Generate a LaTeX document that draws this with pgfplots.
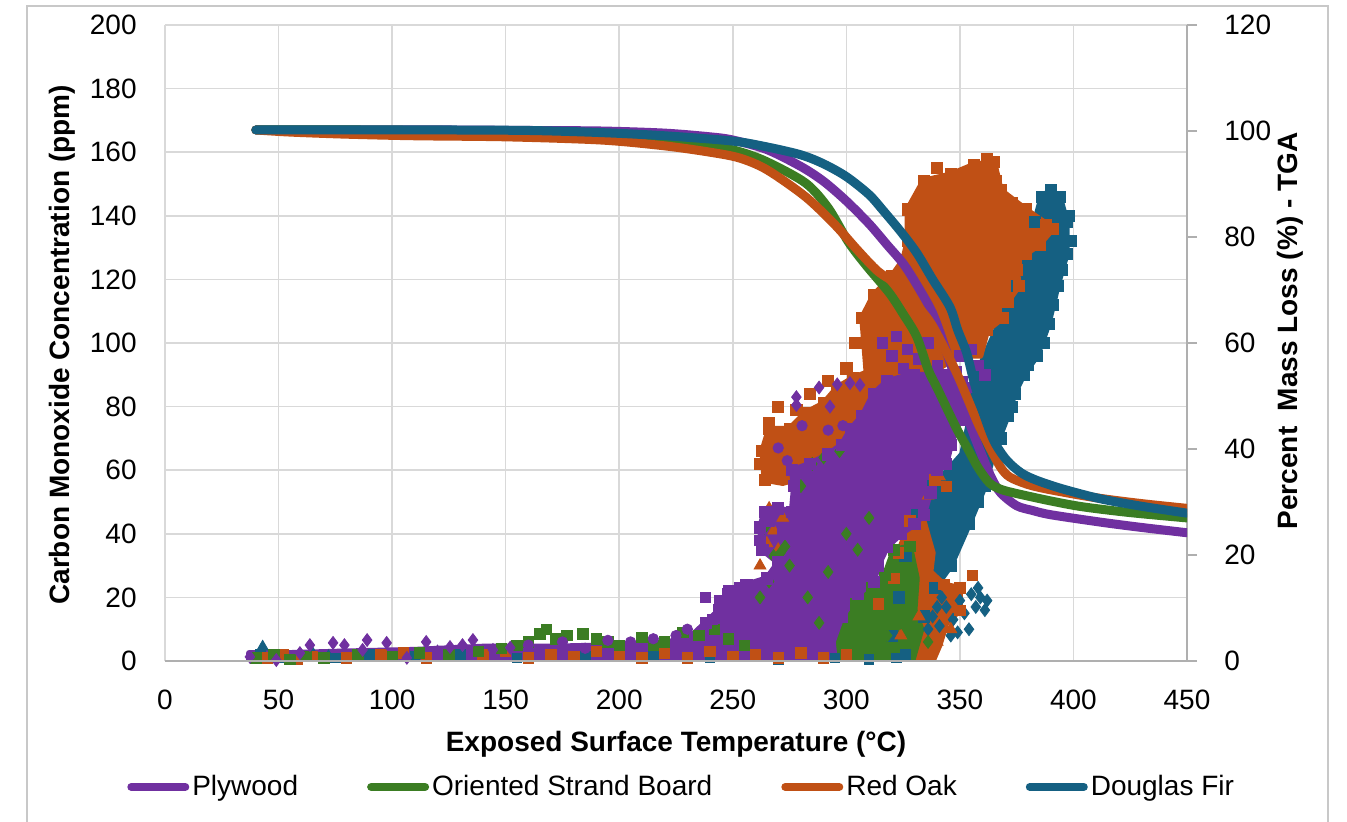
\documentclass[border=0pt]{standalone}
\usepackage{fontspec}
\setmainfont{Liberation Sans}
\usepackage{pgfplots}
\pgfplotsset{compat=1.18}
\definecolor{pur}{RGB}{112,48,160}
\definecolor{grn}{RGB}{59,125,35}
\definecolor{org}{RGB}{192,80,21}
\definecolor{tea}{RGB}{21,96,130}
\definecolor{gridc}{RGB}{217,217,217}
\definecolor{axc}{RGB}{175,175,175}
\definecolor{bordc}{RGB}{200,200,200}
\pgfplotsset{
  blob/.style={draw=#1, fill=#1, line width=3pt, line join=round, forget plot},
  pts/.style={only marks, color=#1, mark options={draw=#1, fill=#1}, forget plot},
}
\begin{document}
\begin{tikzpicture}
\useasboundingbox (-82.5pt,-80pt) rectangle (591pt,330.5pt);
\draw[bordc, line width=1pt] (-69pt,-90pt) rectangle (581.5pt,327.5pt);
\begin{axis}[
  at={(0,0)}, anchor=south west, scale only axis, width=511pt, height=318pt,
  xmin=0, xmax=450, ymin=0, ymax=200,
  xtick={0,50,...,450}, ytick={0,20,...,200},
  grid=major, grid style={gridc, line width=0.8pt},
  axis line style={draw=none}, tick style={draw=none},
  font=\fontsize{14}{17}\selectfont,
  /pgf/number format/assume math mode=true,
  xticklabel style={anchor=center, inner sep=0pt, yshift=-19.5pt},
  yticklabel style={anchor=east, inner sep=0pt, xshift=-14pt},
  xlabel={\bfseries Exposed Surface Temperature (°C)},
  xlabel style={at={(axis description cs:0.5,-0.1305)}, anchor=center},
  ylabel={\bfseries Carbon Monoxide Concentration (ppm)},
  ylabel style={at={(axis description cs:-0.1008,0.497)}, anchor=center},
]
% ---------------- Douglas Fir (teal) ----------------
\addplot[blob=tea] coordinates {
(318,0) (320,8) (323,20) (326,33) (331,46) (338,55) (346,61) (351,65) (354,75) (356,88)
(361,96) (366,104) (371,111) (375,118) (380,126) (383,138) (386,146) (390,148) (394,146)
(397,138) (397,128) (393,118) (389,106) (384,96) (378,90) (374,84) (371,77) (365,66)
(361,55) (354,43) (346,30) (339,23) (334,14) (331,5) (331,0)} -- cycle;
\addplot[pts=tea, mark=square*, mark size=2.8pt] coordinates {
(320,8) (323,20) (326,33) (331,46) (338,55) (346,61) (371,111) (375,118) (380,126)
(383,138) (386,146) (390,148) (394,146) (397,138) (397,128) (393,118) (389,106) (384,96)
(378,90) (374,84) (371,77) (365,66) (361,55) (354,43) (346,30) (339,23) (334,14)
(398,140) (399,132) (395,123) (391,112) (387,100) (380,93) (373,80) (368,70) (358,50)};
\addplot[pts=tea, mark=diamond*, mark size=3.2pt] coordinates {
(338,14) (341,11) (344,17) (347,13) (350,19) (352,15) (355,21) (357,17) (359,20) (361,16)
(354,10) (346,8) (342,20) (349,9) (358,23) (362,19) (336,10) (340,17)};
\addplot[pts=tea, mark=square*, mark size=2.4pt] coordinates {
(42,2) (50,1) (60,1.5) (75,1) (90,2) (110,1.5) (130,2) (155,1) (185,1.5) (215,1.5)
(240,1) (270,0.5) (295,1) (310,0.5) (322,1) (326,2)};
\addplot[pts=tea, mark=triangle*, mark size=3.2pt] coordinates {(43,4.5) (65,2.5) (72,1.5)};
% ---------------- Red Oak (orange) ----------------
\addplot[blob=org] coordinates {
(307,108) (312,115) (320,121) (325,126) (327,132) (327,142) (334,151) (346,153) (356,156)
(365,157) (368,148) (379,142) (391,136) (385,131) (379,128) (375,123) (376,118) (371,113)
(369,108) (362,104) (359,96) (352,96) (345,94) (336,90) (328,90) (320,88) (315,86) (309,90)} -- cycle;
\addplot[pts=org, mark=square*, mark size=2.8pt] coordinates {
(307,108) (312,115) (320,121) (325,126) (327,132) (327,142) (334,151) (346,153) (356,156)
(365,157) (368,148) (379,142) (391,136) (385,131) (379,128) (375,123) (376,118) (371,113)
(369,108) (362,104) (331,141) (337,147) (362,158) (366,151) (373,144) (333,136) (388,137)
(340,155) (350,150) (360,152) (318,118) (311,104) (304,100)};
\addplot[blob=org] coordinates {
(264,57) (263,66) (266,73) (275,73) (282,78) (290,81) (296,86) (303,89) (310,91) (316,92)
(322,88) (323,80) (318,75) (306,72) (300,67) (292,61) (282,58) (272,56)} -- cycle;
\addplot[pts=org, mark=square*, mark size=2.8pt] coordinates {
(264,57) (263,66) (266,73) (275,73) (282,78) (290,81) (296,86) (303,89) (266,75) (278,79)
(262,62) (270,80) (284,84) (292,88) (300,92)};
\addplot[blob=org] coordinates {
(310,0) (308,8) (314,18) (321,26) (323,34) (328,44) (334,44) (338,34) (337,28) (343,24)
(350,23) (350,16) (344,12) (341,5) (338,0)} -- cycle;
\addplot[pts=org, mark=square*, mark size=2.6pt] coordinates {
(45,1) (52,2) (58,0.5) (65,1.5) (80,1) (95,2) (105,2.5) (115,1) (125,1.5) (140,2) (150,3)
(160,1) (170,2) (180,1.5) (190,3) (200,2) (210,1) (220,2.5) (230,1) (240,3) (250,1.5)
(260,2) (270,1) (280,2.5) (290,1) (300,2) (355.6,27) (339,57) (344,55) (343,24) (350,23)
(350,16) (314,18) (321,26) (323,34) (328,44)};
\addplot[pts=org, mark=triangle*, mark size=3.4pt] coordinates {
(262,30) (265,37) (268,41) (272,45) (270,35) (266,48) (336,52) (341,58) (324,8) (332,14)
(340,6) (346,10)};
% ---------------- OSB (green) ----------------
\addplot[blob=grn] coordinates {
(289,0) (289,5) (296,12) (304,18) (311,23) (317,27) (321,35) (328,36) (331,26) (330,16)
(333,10) (329,0)} -- cycle;
\addplot[pts=grn, mark=square*, mark size=2.6pt] coordinates {
(40,1) (48,2) (55,0.5) (62,1.5) (70,1) (85,2) (100,1.5) (112,2.5) (125,2) (138,3) (148,4)
(155,5) (160,6) (165,8.5) (168,10) (172,7) (177,8) (184,8.5) (190,7) (195,6) (200,5)
(210,7.5) (215,5) (220,6) (228,9) (235,8) (242,10) (248,7) (255,5) (304,18) (311,23)
(317,27) (321,35) (328,36)};
\addplot[pts=grn, mark=diamond*, mark size=3.2pt] coordinates {
(262,20) (266,25) (268,33) (271,34) (273,36) (264,42) (285,62) (290,64) (297,66) (280,55)
(300,40) (305,35) (310,45) (275,30) (283,20) (288,12) (292,28) (318,8) (324,12) (336,6)};
% ---------------- Plywood (purple) ----------------
\addplot[blob=pur] coordinates {
(37,0) (37,2.5) (55,2.5) (80,3) (110,3.5) (140,4.5) (170,4.5) (200,5) (222,6) (232,8)
(238,12) (244,16) (248,21) (256,24) (265,26) (270,31) (263,35) (262,42) (264,47) (270,48)
(276,47) (277,55) (276,60) (284,62) (292,65) (298,68) (302,73) (307,77) (312,84) (318,88)
(328,90) (340,90) (348,91) (352,86) (350,76) (346,68) (344,62) (340,60) (337,53) (334,46)
(330,43) (324,40) (318,36) (314,30) (312,25) (305,21) (298,14) (294,6) (295,0)} -- cycle;
\addplot[pts=pur, mark=square*, mark size=2.8pt] coordinates {
(238,12) (244,16) (248,21) (256,24) (265,26) (270,31) (263,35) (262,42) (264,47) (270,48)
(276,47) (277,55) (276,60) (284,62) (292,65) (298,68) (302,73) (307,77) (312,84) (318,88)
(328,90) (340,90) (348,91) (352,86) (350,76) (346,68) (344,62) (340,60) (337,53) (334,46)
(330,43) (324,40) (318,36) (314,30) (312,25) (305,21) (298,14)};
\addplot[pts=pur, mark=diamond*, mark size=3.2pt] coordinates {
(278,83) (288,86) (296,87) (301.6,87.4) (306,86.8) (278,80.5) (292.8,80) (63.8,5) (74,5.7)
(79,5) (89,6.6) (97.6,5.7) (87,3.5) (59.4,2.5) (49,0.3) (37.4,1.3) (106.5,1) (125.5,4.4)
(135.6,6.6) (131,5) (144.4,3.5) (152,4.2) (115,6) (120,3)};
\addplot[pts=pur, mark=*, mark size=2.6pt] coordinates {
(280.5,74) (292,72.6) (298.5,74) (284,61.6) (270,67) (274,63) (160,5) (175,6) (185,4)
(195,6.5) (205,6) (215,7) (225,8) (230,10)};
\addplot[pts=pur, mark=square*, mark size=2.6pt] coordinates {
(241,13) (244,19) (248,22) (253,23) (238,20) (262,38) (266,44) (266,47) (272,40) (279,45)
(316,100) (320,96) (322,102) (327,98) (332,95) (336,100) (340,93) (345,90) (350,96)
(355,98) (358,93) (361,90) (330,90) (325,92) (351,88) (356,86)};
\end{axis}
\begin{axis}[
  at={(0,0)}, anchor=south west, scale only axis, width=511pt, height=318pt,
  xmin=0, xmax=450, ymin=0, ymax=120,
  axis y line*=right, axis x line*=bottom,
  xtick=\empty, ytick={0,20,...,120},
  axis line style={axc, line width=0.8pt, -},
  y tick style={axc, line width=0.8pt}, major tick length=5pt, tick align=outside,
  font=\fontsize{14}{17}\selectfont,
  /pgf/number format/assume math mode=true,
  yticklabel style={anchor=west, inner sep=0pt, xshift=13.5pt},
  ylabel={\bfseries Percent\ \ Mass Loss (\%) - TGA},
  ylabel style={at={(axis description cs:1.1008,0.519)}, anchor=center},
  legend columns=4,
  legend style={at={(axis description cs:0.506,-0.198)}, anchor=center, draw=none, fill=none,
    font=\fontsize{14}{17}\selectfont, nodes={inner sep=1.5pt},
    /tikz/every even column/.append style={column sep=33pt}},
  legend image code/.code={\draw[#1, line width=4pt, line cap=round] (0pt,0pt) -- (27pt,0pt);},
]
\addplot[pur, line width=4.5pt, line cap=round, line join=round, smooth] coordinates {
(40,100.2) (80,100.2) (120,100.2) (160,100.1) (192,100) (220,99.6) (240,98.9) (250,98.3)
(265,96.5) (280,93.3) (290,90.5) (300,86.8) (310,82.5) (318,78.5) (325,75) (331,71)
(338,65.6) (344,58.5) (350,50.5) (355,44) (360,38.5) (364,34.5) (368,31.7) (375,29.3)
(382,28.4) (390,27.6) (412,26.2) (430,25.2) (450,24.2)};
\addlegendentry{Plywood}
\addplot[grn, line width=4.5pt, line cap=round, line join=round, smooth] coordinates {
(40,100.2) (80,100.2) (120,100.1) (160,100) (192,99.4) (220,98.5) (240,97.3) (253,96.1)
(265,94.2) (282,90.2) (292,85.5) (301,79) (309,74.5) (319,69.4) (325,65.5) (331,61.2)
(336,55) (340,51.5) (345,47) (349,43.5) (353,40.4) (358,36.5) (363,33.6) (368,32.4)
(375,31.6) (390,30.2) (404,29.1) (425,28) (450,27)};
\addlegendentry{Oriented Strand Board}
\addplot[org, line width=4.5pt, line cap=round, line join=round, smooth] coordinates {
(40,100.2) (55,99.8) (80,99.4) (110,99.1) (150,98.9) (192,98.3) (220,97.2) (240,96)
(253,94.9) (265,92.7) (282,87.6) (295,82.3) (305,77.5) (314,73.5) (324,70.5) (336,64.5)
(342,60) (348.6,54.3) (353,49.9) (358,44.8) (363,40.4) (368,36.5) (372,34.7) (380,33.3)
(390,32.3) (410,30.8) (430,29.7) (450,28.8)};
\addlegendentry{Red Oak}
\addplot[tea, line width=4.5pt, line cap=round, line join=round, smooth] coordinates {
(40,100.2) (80,100.2) (120,100.2) (160,100.1) (192,99.7) (220,99.1) (250,98.1) (265,97)
(280,95.5) (290,93.8) (300,91.4) (310,88) (316,85.1) (324,81) (331,77) (338,72)
(345.6,66.8) (349,62.5) (353,58.1) (356,53) (360.3,46.8) (365,41.5) (370.6,37.9)
(377,35.5) (383.8,34.1) (395,32.5) (412,30.6) (430,29.2) (450,27.9)};
\addlegendentry{Douglas Fir}
\end{axis}
\end{tikzpicture}
\end{document}
